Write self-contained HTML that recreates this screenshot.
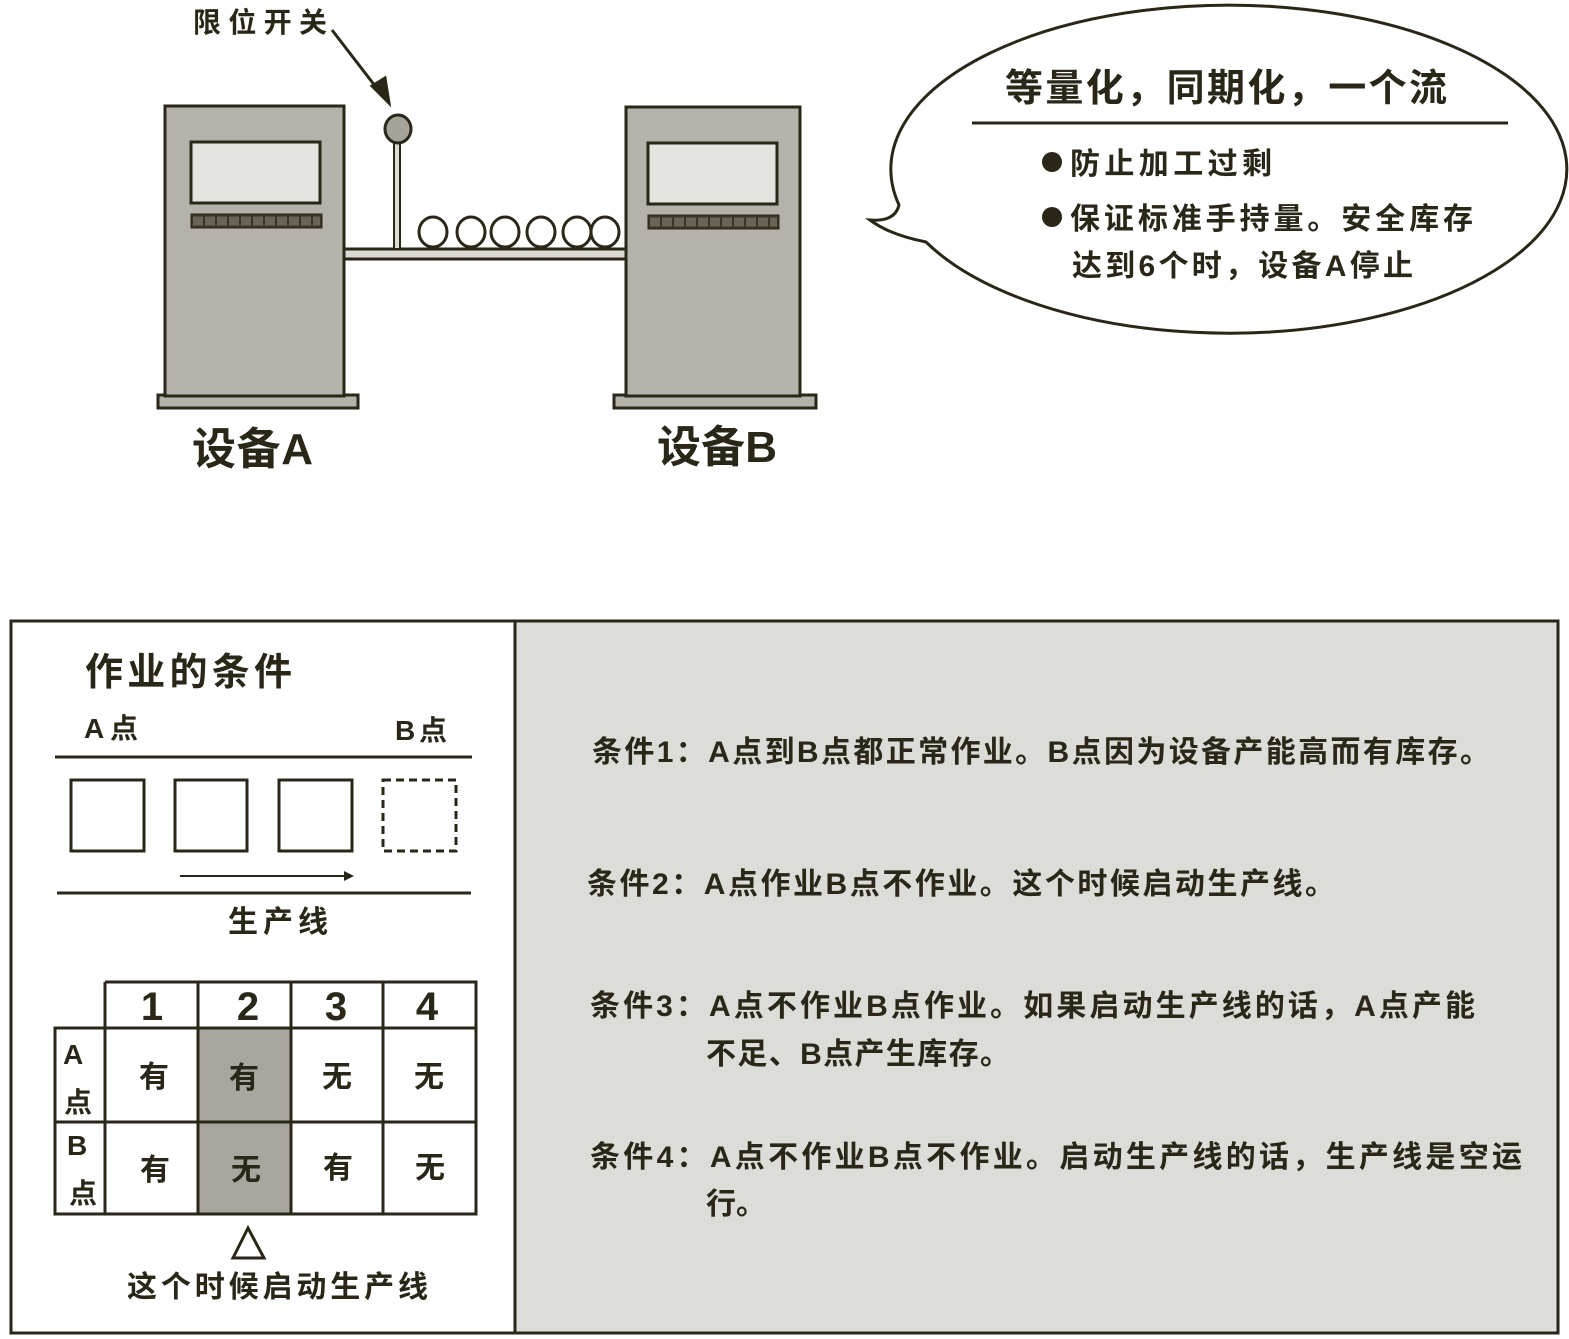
<!DOCTYPE html>
<html><head><meta charset="utf-8"><style>
html,body{margin:0;padding:0;background:#fff}
svg{display:block}
text{font-family:"Liberation Sans","Noto Sans CJK SC",sans-serif;fill:#2a2618;font-weight:bold}
</style></head><body>
<svg width="1569" height="1339" viewBox="0 0 1569 1339" xmlns="http://www.w3.org/2000/svg">
<defs><marker id="ah" markerWidth="10" markerHeight="10" refX="8" refY="5" orient="auto" markerUnits="userSpaceOnUse"><path d="M0,0 L10,5 L0,10 Z" fill="#2a2618"/></marker></defs>
<g stroke="#2a2618" stroke-width="3">
<rect x="158" y="395" width="200" height="13" fill="#b4b2aa"/>
<rect x="165" y="106" width="179" height="290" fill="#b4b2aa"/>
<rect x="191" y="142" width="129" height="61" fill="#e4e4e0"/>
<rect x="191" y="214" width="131" height="14" fill="#3a3526" stroke-width="1"/>
<line x1="193" y1="221" x2="320" y2="221" stroke="#6a6456" stroke-width="9" stroke-dasharray="10,2"/>
<rect x="614" y="395" width="202" height="13" fill="#b4b2aa"/>
<rect x="626" y="107" width="174" height="289" fill="#b4b2aa"/>
<rect x="648" y="143" width="129" height="61" fill="#e4e4e0"/>
<rect x="648" y="215" width="131" height="14" fill="#3a3526" stroke-width="1"/>
<line x1="650" y1="222" x2="777" y2="222" stroke="#6a6456" stroke-width="9" stroke-dasharray="10,2"/>
<rect x="344" y="249" width="282" height="10" fill="#dcdad2"/>
<rect x="394" y="140" width="6" height="109" fill="#dcdad2" stroke-width="2"/>
<ellipse cx="398" cy="129" rx="13" ry="14" fill="#a5a39a"/>
<g fill="#fff">
<ellipse cx="433" cy="232" rx="14" ry="15"/><ellipse cx="471" cy="232" rx="14" ry="15"/>
<ellipse cx="505" cy="232" rx="14" ry="15"/><ellipse cx="541" cy="232" rx="14" ry="15"/>
<ellipse cx="577" cy="232" rx="14" ry="15"/><ellipse cx="605" cy="232" rx="14" ry="15"/>
</g>
<line x1="332" y1="30" x2="382" y2="95" stroke-width="3"/>
<path d="M372,86 L389,103 L385,78 Z" fill="#2a2618"/>
<path d="M899,205 A338,164 0 1 1 926,242 Q890,235 870,220 Q895,222 899,205 Z" fill="#fff"/>
<line x1="972" y1="123" x2="1508" y2="123"/>
</g>
<circle cx="1052" cy="162" r="10" fill="#2a2618"/>
<circle cx="1052" cy="217" r="10" fill="#2a2618"/>
<text x="193" y="32" font-size="28" textLength="134">限位开关</text>
<text x="192" y="464" font-size="44" textLength="121">设备A</text>
<text x="657" y="462" font-size="44" textLength="120">设备B</text>
<text x="1005" y="101" font-size="38" textLength="442">等量化，同期化，一个流</text>
<text x="1070" y="174" font-size="30" textLength="202">防止加工过剩</text>
<text x="1070" y="229" font-size="30" textLength="403">保证标准手持量。安全库存</text>
<text x="1072" y="276" font-size="30" textLength="341">达到6个时，设备A停止</text>

<g stroke="#2a2618" stroke-width="3">
<rect x="11" y="621" width="1547" height="712" fill="#fff"/>
<rect x="515" y="621" width="1043" height="712" fill="#dcdcd8"/>
<line x1="55" y1="757" x2="472" y2="757"/>
<line x1="57" y1="893" x2="471" y2="893"/>
<rect x="71" y="780" width="73" height="71" fill="#fff"/>
<rect x="175" y="780" width="72" height="71" fill="#fff"/>
<rect x="279" y="780" width="73" height="71" fill="#fff"/>
<rect x="383" y="780" width="73" height="71" fill="none" stroke-dasharray="8,5"/>
<line x1="180" y1="876" x2="352" y2="876" stroke-width="2" marker-end="url(#ah)"/>
<rect x="198" y="1028" width="93" height="186" fill="#a8a69e" stroke="none"/>
<path d="M105,982 H476 V1214 H55 V1028 H476 M55,1122 H476 M105,982 V1214 M198,982 V1214 M291,982 V1214 M383,982 V1214" fill="none"/>
<path d="M248,1228 L233,1258 L264,1258 Z" fill="none" stroke-width="3"/>
</g>
<text x="85" y="685" font-size="38" textLength="207">作业的条件</text>
<text x="84" y="738" font-size="28" textLength="54">A点</text>
<text x="395" y="740" font-size="28" textLength="52">B点</text>
<text x="228" y="932" font-size="30" textLength="100">生产线</text>
<g font-size="40" text-anchor="middle"><text x="152" y="1020">1</text><text x="248" y="1020">2</text><text x="336" y="1020">3</text><text x="427" y="1020">4</text></g>
<g font-size="30" text-anchor="middle">
<text x="154" y="1087">有</text><text x="244" y="1088">有</text><text x="337" y="1087">无</text><text x="429" y="1087">无</text>
<text x="155" y="1180">有</text><text x="246" y="1180">无</text><text x="338" y="1178">有</text><text x="430" y="1178">无</text>
</g>
<g font-size="28"><text x="63" y="1064">A</text><text x="64" y="1112">点</text><text x="67" y="1155">B</text><text x="69" y="1203">点</text></g>
<text x="127" y="1297" font-size="30" textLength="301">这个时候启动生产线</text>
<g font-size="30">
<text x="592" y="762" textLength="898">条件1：A点到B点都正常作业。B点因为设备产能高而有库存。</text>
<text x="587" y="894" textLength="748">条件2：A点作业B点不作业。这个时候启动生产线。</text>
<text x="590" y="1016" textLength="885">条件3：A点不作业B点作业。如果启动生产线的话，A点产能</text>
<text x="706" y="1064" textLength="304">不足、B点产生库存。</text>
<text x="590" y="1167" textLength="932">条件4：A点不作业B点不作业。启动生产线的话，生产线是空运</text>
<text x="706" y="1214">行。</text>
</g>
</svg>
</body></html>
